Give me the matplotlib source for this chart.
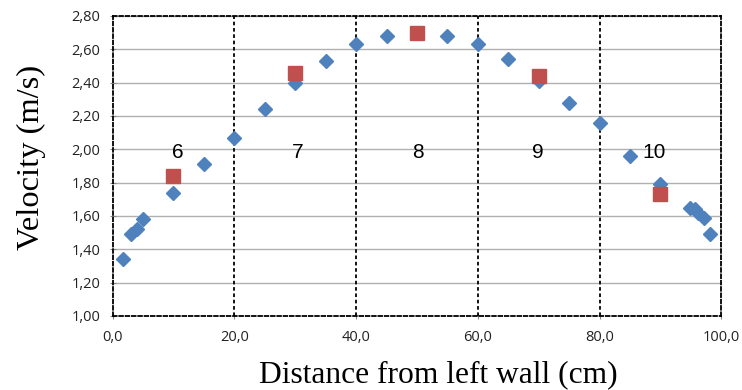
import numpy as np
import matplotlib.pyplot as plt
from matplotlib.ticker import FuncFormatter

# measured velocity profile (blue) and zone averages (red)
dist_blue = [1.6, 3.0, 3.9, 4.9, 9.9, 15.0, 20.0, 25.0, 30.0, 35.0, 40.0, 45.0,
             50.0, 55.0, 60.0, 65.0, 70.0, 75.0, 80.0, 85.0, 90.0, 94.9, 95.7,
             96.2, 97.1, 98.2]
vel_blue = [1.34, 1.49, 1.52, 1.58, 1.74, 1.91, 2.07, 2.24, 2.40, 2.53, 2.63, 2.68,
            2.70, 2.68, 2.63, 2.54, 2.41, 2.28, 2.16, 1.96, 1.79, 1.65, 1.64,
            1.62, 1.59, 1.49]
dist_red = [9.9, 30.0, 50.0, 70.0, 90.0]
vel_red = [1.84, 2.46, 2.70, 2.44, 1.73]
zone_labels = ["6", "7", "8", "9", "10"]
zone_x = [10.7, 30.4, 50.2, 69.9, 89.0]
zone_y = 1.98

fig = plt.figure(figsize=(7.42, 3.90), dpi=100)
ax = fig.add_axes([0.152, 0.190, 0.820, 0.769])

ax.set_xlim(0, 100)
ax.set_ylim(1.0, 2.8)
ax.set_xticks(np.arange(0, 101, 20))
ax.set_yticks(np.arange(1.0, 2.81, 0.2))

# horizontal gridlines
ax.grid(axis="y", color="#b0b0b0", lw=1)
ax.set_axisbelow(True)

# zone boundaries
for xv in [20, 40, 60, 80]:
    ax.axvline(xv, color="black", lw=1.3, ls=(0, (2, 1.5)), zorder=1)
for side in ax.spines.values():
    side.set_color("black")
    side.set_linewidth(1.3)
    side.set_linestyle((0, (2, 1.5)))

ax.plot(dist_blue, vel_blue, "D", color="#4F81BD", ms=7.5, mec="#4F81BD", zorder=3)
ax.plot(dist_red, vel_red, "s", color="#C0504D", ms=9.5, mec="#C0504D", zorder=4)

for lab, xv in zip(zone_labels, zone_x):
    ax.text(xv, zone_y, lab, ha="center", va="center", fontsize=15,
            family="Liberation Sans")

ax.xaxis.set_major_formatter(FuncFormatter(lambda v, p: f"{v:.1f}".replace(".", ",")))
ax.yaxis.set_major_formatter(FuncFormatter(lambda v, p: f"{v:.2f}".replace(".", ",")))
ax.tick_params(labelsize=10.5, length=4, color="#888888", direction="inout")
ax.tick_params(axis="x", pad=8)
ax.tick_params(axis="y", pad=7)
for t in ax.get_xticklabels() + ax.get_yticklabels():
    t.set_family("Open Sans")
    t.set_color("#222222")

ax.set_xlabel("Distance from left wall (cm)", family="Liberation Serif", fontsize=22.7, labelpad=11)
ax.set_ylabel("Velocity (m/s)", family="Liberation Serif", fontsize=23.4, labelpad=18)
ax.xaxis.label.set_x(0.535)
ax.yaxis.label.set_y(0.527)

fig.savefig("out.png", dpi=100)
